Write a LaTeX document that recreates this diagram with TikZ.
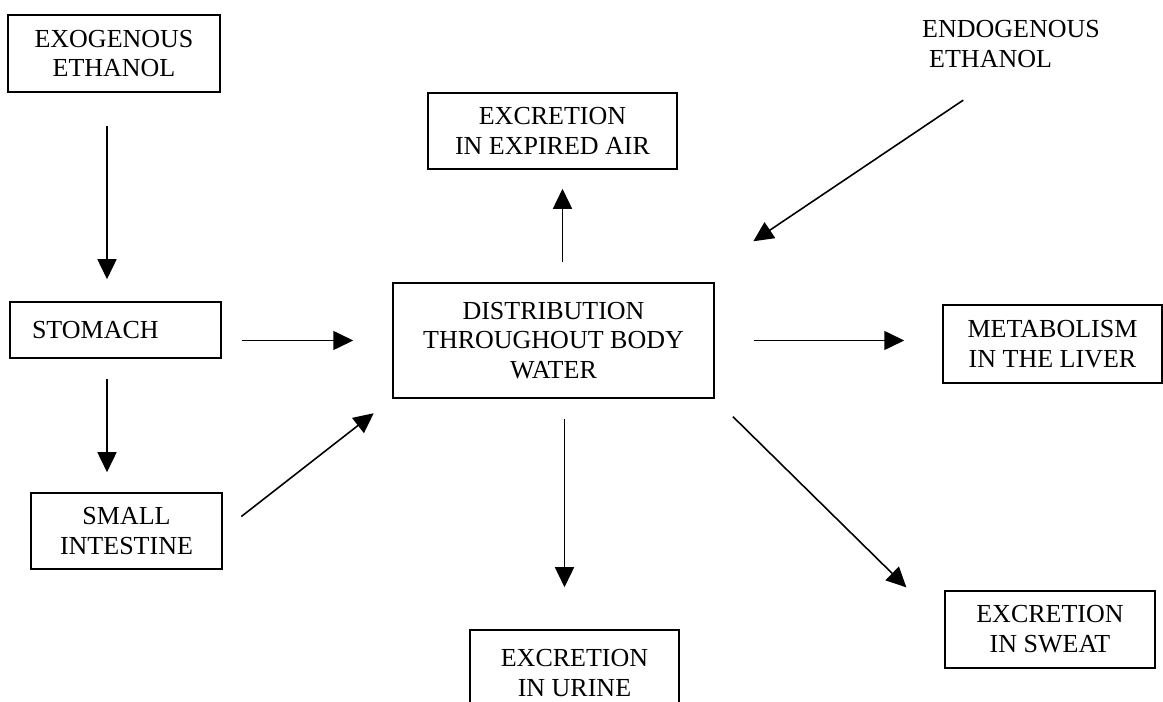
\documentclass[tikz,border=0pt]{standalone}
\usepackage{fontspec}
\setmainfont{Liberation Serif}
\usetikzlibrary{arrows.meta, positioning, calc}

\begin{document}
\begin{tikzpicture}[
  x=0.02cm, y=-0.02cm,
  every node/.style={font=\fontsize{14.8}{17}\selectfont},
  stage/.style={draw, line width=0.9pt, inner sep=0pt, align=center},
  flow/.style={-{Triangle[length=4mm, width=3.8mm]}, line width=0.9pt}
]
  \clip (0,0) rectangle (1163,702);

  % sources and gut
  \node[stage, minimum width=4.24cm, minimum height=1.54cm] (exo) at (114,53.5)
    {EXOGENOUS\\ETHANOL};
  \node[stage, minimum width=4.22cm, minimum height=1.12cm, text width=3.34cm,
    inner xsep=0.44cm, align=left] (stomach) at (115.5,330) {STOMACH};
  \node[stage, minimum width=3.82cm, minimum height=1.52cm] (small) at (126.5,531)
    {SMALL\\INTESTINE};
  \node[inner sep=0pt, align=left] (endo) at (1011,44)
    {ENDOGENOUS\\\hspace{4pt}ETHANOL};

  % body water and routes out
  \node[stage, minimum width=6.42cm, minimum height=2.3cm] (dist) at (553.5,340.5)
    {DISTRIBUTION\\THROUGHOUT BODY\\WATER};
  \node[stage, minimum width=4.98cm, minimum height=1.52cm] (air) at (552.5,131)
    {EXCRETION\\IN EXPIRED AIR};
  \node[stage, minimum width=4.38cm, minimum height=1.56cm] (liver) at (1052.5,344)
    {METABOLISM\\IN THE LIVER};
  \node[stage, minimum width=4.18cm, minimum height=1.72cm] (urine) at (574.5,673)
    {EXCRETION\\IN URINE};
  \node[stage, minimum width=4.2cm, minimum height=1.54cm] (sweat) at (1050,629.5)
    {EXCRETION\\IN SWEAT};

  \draw[flow, shorten <=0.66cm, shorten >=0.44cm]
    ([xshift=-0.14cm]exo.south) -- ([xshift=-0.14cm]exo.south |- stomach.north);
  \draw[flow, shorten <=0.4cm, shorten >=0.4cm]
    ([xshift=-0.17cm]stomach.south) -- ([xshift=-0.17cm]stomach.south |- small.north);
  \draw[flow, shorten <=0.4cm, shorten >=0.78cm]
    (stomach.east |- dist.west) -- (dist.west);
  \draw[flow, shorten <=0.47cm, shorten >=0.47cm]
    (small.east) -- (dist.south west);
  \draw[flow, shorten <=1.15cm, shorten >=0.93cm]
    (endo.south) -- ([yshift=0.3cm]dist.north east);

  \draw[flow, shorten <=0.4cm, shorten >=0.38cm]
    ([xshift=0.18cm]dist.north) -- ([xshift=0.18cm]dist.north |- air.south);
  \draw[flow, shorten <=0.78cm, shorten >=0.76cm]
    (dist.east) -- (dist.east -| liver.west);
  \draw[flow, shorten <=0.4cm, shorten >=0.84cm]
    ([xshift=0.22cm]dist.south) -- ([xshift=0.22cm]dist.south |- urine.north);
  \draw[flow, shorten <=0.51cm, shorten >=0.08cm]
    (dist.south east) -- ([xshift=-0.7cm]sweat.north west);
\end{tikzpicture}
\end{document}
